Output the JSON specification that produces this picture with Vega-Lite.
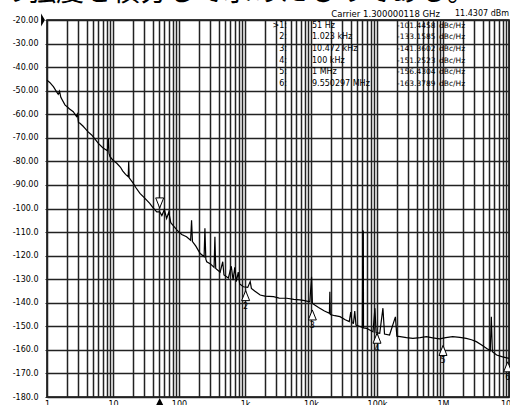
{
  "$schema": "https://vega.github.io/schema/vega-lite/v6.json",
  "width": 462,
  "height": 377,
  "autosize": {"type": "none"},
  "padding": {"left": 47, "top": 20, "right": 1, "bottom": 8},
  "background": "white",
  "title": {"text": "の強度を積分して求めたものである。", "anchor": "start", "frame": "group", "dx": -47, "dy": 19, "offset": 0, "baseline": "alphabetic", "font": "Noto Sans CJK JP", "fontSize": 28, "fontWeight": "normal", "color": "#000"},
  "datasets": {
    "curve": [
      {"f": 1, "db": -45.5}, {"f": 1.1, "db": -46.5}, {"f": 1.25, "db": -48.3}, {"f": 1.4, "db": -50.5}, {"f": 1.48, "db": -51.5},
      {"f": 1.55, "db": -50.2}, {"f": 1.62, "db": -52.8}, {"f": 1.87, "db": -56}, {"f": 2.2, "db": -57.8}, {"f": 2.5, "db": -58.9},
      {"f": 2.8, "db": -61}, {"f": 2.9, "db": -60}, {"f": 3.0, "db": -63.5}, {"f": 3.16, "db": -63.8}, {"f": 3.5, "db": -65},
      {"f": 3.77, "db": -66}, {"f": 4.2, "db": -67.5}, {"f": 4.75, "db": -68.8}, {"f": 5.3, "db": -70.5}, {"f": 6.0, "db": -72.4},
      {"f": 7.0, "db": -74.2}, {"f": 8.2, "db": -75.5}, {"f": 8.5, "db": -70.2}, {"f": 8.7, "db": -76.5}, {"f": 9.0, "db": -78},
      {"f": 10, "db": -79.5}, {"f": 11.4, "db": -80.8}, {"f": 13, "db": -82.5}, {"f": 14, "db": -84}, {"f": 15.5, "db": -85.5},
      {"f": 17, "db": -86.5}, {"f": 17.3, "db": -80}, {"f": 17.6, "db": -87}, {"f": 20.3, "db": -89.3}, {"f": 22, "db": -91},
      {"f": 25.6, "db": -93.6}, {"f": 30, "db": -95.5}, {"f": 36, "db": -97.8}, {"f": 40, "db": -99.5}, {"f": 46, "db": -101.4},
      {"f": 51, "db": -101.4}, {"f": 55, "db": -103}, {"f": 60, "db": -100.5}, {"f": 65, "db": -104.2}, {"f": 70, "db": -101.5},
      {"f": 75, "db": -106}, {"f": 80, "db": -107}, {"f": 92, "db": -109}, {"f": 100, "db": -110}, {"f": 110, "db": -111},
      {"f": 130, "db": -112}, {"f": 150, "db": -113.5}, {"f": 155, "db": -105}, {"f": 160, "db": -114}, {"f": 180, "db": -116},
      {"f": 208, "db": -119}, {"f": 240, "db": -120.5}, {"f": 247, "db": -108.4}, {"f": 255, "db": -121.5}, {"f": 263, "db": -122.6},
      {"f": 300, "db": -123.5}, {"f": 340, "db": -125}, {"f": 350, "db": -112}, {"f": 360, "db": -125.4}, {"f": 420, "db": -127},
      {"f": 460, "db": -122.6}, {"f": 480, "db": -128.2}, {"f": 560, "db": -129.5}, {"f": 620, "db": -124.5}, {"f": 660, "db": -130.4},
      {"f": 700, "db": -125}, {"f": 740, "db": -131}, {"f": 790, "db": -127}, {"f": 830, "db": -132}, {"f": 945, "db": -133.2},
      {"f": 1100, "db": -133.5}, {"f": 1200, "db": -131}, {"f": 1250, "db": -133.9}, {"f": 1400, "db": -135}, {"f": 1700, "db": -136.7},
      {"f": 2000, "db": -137.2}, {"f": 2700, "db": -137.4}, {"f": 3300, "db": -138}, {"f": 4300, "db": -138.1}, {"f": 5500, "db": -138.6},
      {"f": 6800, "db": -138.8}, {"f": 8000, "db": -139.1}, {"f": 9600, "db": -139.6}, {"f": 10200, "db": -129}, {"f": 10500, "db": -140.3},
      {"f": 11400, "db": -141}, {"f": 13000, "db": -142}, {"f": 16000, "db": -143.5}, {"f": 19000, "db": -144.5}, {"f": 19300, "db": -135.3},
      {"f": 19600, "db": -145}, {"f": 23000, "db": -145.5}, {"f": 27500, "db": -145.9}, {"f": 33000, "db": -147.2}, {"f": 38000, "db": -148},
      {"f": 40000, "db": -144}, {"f": 42000, "db": -148.5}, {"f": 44000, "db": -148.7}, {"f": 46000, "db": -143.5}, {"f": 48000, "db": -149.5},
      {"f": 55000, "db": -150.1}, {"f": 60000, "db": -150.5}, {"f": 61000, "db": -109.1}, {"f": 61500, "db": -150.7}, {"f": 62000, "db": -109.5},
      {"f": 62500, "db": -150.7}, {"f": 70000, "db": -150.9}, {"f": 80000, "db": -151.8}, {"f": 87000, "db": -152.3}, {"f": 93000, "db": -142.3},
      {"f": 97000, "db": -152.7}, {"f": 110000, "db": -153}, {"f": 123000, "db": -142.3}, {"f": 130000, "db": -153.3}, {"f": 155000, "db": -153.7},
      {"f": 190000, "db": -146}, {"f": 200000, "db": -154.2}, {"f": 225000, "db": -154.4}, {"f": 280000, "db": -154.8}, {"f": 350000, "db": -155.1},
      {"f": 450000, "db": -154.8}, {"f": 560000, "db": -154.4}, {"f": 700000, "db": -154.9}, {"f": 890000, "db": -155.3}, {"f": 1100000, "db": -154.8},
      {"f": 1400000, "db": -154.4}, {"f": 1800000, "db": -154.7}, {"f": 2250000, "db": -155.1}, {"f": 2700000, "db": -155.7}, {"f": 3200000, "db": -156.5},
      {"f": 3800000, "db": -157.8}, {"f": 4600000, "db": -159.4}, {"f": 5200000, "db": -160.3}, {"f": 5400000, "db": -145.9}, {"f": 5600000, "db": -160.8},
      {"f": 6500000, "db": -162.2}, {"f": 8000000, "db": -163}, {"f": 10000000, "db": -163.6}
    ],
    "markers": [
      {"marker": 1, "idx": ">1:", "f": 51, "freqLabel": "51 Hz", "db": -101.4458, "valueLabel": "-101.4458"},
      {"marker": 2, "idx": "2:", "f": 1023, "freqLabel": "1.023 kHz", "db": -133.1585, "valueLabel": "-133.1585"},
      {"marker": 3, "idx": "3:", "f": 10472, "freqLabel": "10.472 kHz", "db": -141.3602, "valueLabel": "-141.3602"},
      {"marker": 4, "idx": "4:", "f": 100000, "freqLabel": "100 kHz", "db": -151.2523, "valueLabel": "-151.2523"},
      {"marker": 5, "idx": "5:", "f": 1000000, "freqLabel": "1 MHz", "db": -156.4304, "valueLabel": "-156.4304"},
      {"marker": 6, "idx": "6:", "f": 9550297, "freqLabel": "9.550297 MHz", "db": -163.3789, "valueLabel": "-163.3789"}
    ],
    "carrier": [{"row": 0, "carrier": "Carrier 1.300000118 GHz", "power": "11.4307 dBm"}],
    "indicators": [
      {"kind": "reference level", "f": 1, "db": -20},
      {"kind": "active marker", "f": 51, "db": -180}
    ]
  },
  "layer": [
    {
      "encoding": {
        "x": {"field": "f", "type": "quantitative", "scale": {"type": "log", "domain": [1, 10000000], "nice": false},
          "axis": {"values": [1,2,3,4,5,6,7,8,9,10,20,30,40,50,60,70,80,90,100,200,300,400,500,600,700,800,900,1000,2000,3000,4000,5000,6000,7000,8000,9000,10000,20000,30000,40000,50000,60000,70000,80000,90000,100000,200000,300000,400000,500000,600000,700000,800000,900000,1000000,2000000,3000000,4000000,5000000,6000000,7000000,8000000,9000000,10000000],
            "grid": true, "gridColor": "#222", "gridWidth": 1.5, "domain": false, "ticks": false, "title": null,
            "labelExpr": "datum.value==1?'1':datum.value==10?'10':datum.value==100?'100':datum.value==1000?'1k':datum.value==10000?'10k':datum.value==100000?'100k':datum.value==1000000?'1M':datum.value==10000000?'10M':''",
            "labelFont": "DejaVu Sans", "labelFontSize": 8, "labelColor": "#000", "labelPadding": 3, "labelOverlap": false, "labelFlush": false, "labelBound": false}},
        "y": {"field": "db", "type": "quantitative", "scale": {"domain": [-180, -20], "nice": false, "zero": false},
          "axis": {"values": [-20,-30,-40,-50,-60,-70,-80,-90,-100,-110,-120,-130,-140,-150,-160,-170,-180],
            "grid": true, "gridColor": "#222", "gridWidth": 1.5, "domain": false, "ticks": true, "tickSize": 2, "tickColor": "#222", "title": null,
            "labelExpr": "datum.value > -100 ? '-' + format(-datum.value, '.2f') : '-' + format(-datum.value, '.1f')",
            "labelFont": "DejaVu Sans", "labelFontSize": 8, "labelColor": "#000", "labelPadding": 7, "labelOverlap": false, "labelBound": false, "labelFlush": false}}
      },
      "layer": [
        {
          "data": {"name": "curve"},
          "mark": {"type": "line", "color": "#000", "strokeWidth": 1.2}
        },
        {
          "data": {"name": "markers"},
          "transform": [{"filter": "datum.marker > 1"}],
          "mark": {"type": "point", "shape": "M0,-1L0.8,1L-0.8,1Z", "size": 100, "filled": true, "fill": "white", "stroke": "#000", "strokeWidth": 1, "opacity": 1, "yOffset": 9}
        },
        {
          "data": {"name": "markers"},
          "transform": [{"filter": "datum.marker > 1"}],
          "mark": {"type": "text", "font": "DejaVu Sans", "fontSize": 8, "color": "#000", "dy": 20, "baseline": "middle", "align": "center"},
          "encoding": {"text": {"field": "marker", "type": "nominal"}}
        },
        {
          "data": {"name": "markers"},
          "transform": [{"filter": "datum.marker == 1"}],
          "mark": {"type": "point", "shape": "M0,1L0.8,-1L-0.8,-1Z", "size": 100, "filled": true, "fill": "white", "stroke": "#000", "strokeWidth": 1, "opacity": 1, "yOffset": -9}
        },
        {
          "data": {"name": "indicators"},
          "transform": [{"filter": "datum.kind == 'active marker'"}],
          "mark": {"type": "point", "shape": "M0,-1L1,1L-1,1Z", "size": 100, "filled": true, "color": "#000", "opacity": 1, "yOffset": 6}
        },
        {
          "data": {"name": "indicators"},
          "transform": [{"filter": "datum.kind == 'reference level'"}],
          "mark": {"type": "point", "shape": "M-0.3,-1L0.3,0L-0.3,1Z", "size": 169, "filled": true, "color": "#000", "opacity": 1, "xOffset": -4}
        }
      ]
    },
    {
      "layer": [
        {
          "data": {"name": "carrier"},
          "mark": {"type": "text", "font": "DejaVu Sans", "fontSize": 8.5, "color": "#000", "align": "right", "baseline": "middle"},
          "encoding": {
            "x": {"datum": 900000, "type": "quantitative", "scale": {"type": "log", "domain": [1, 10000000], "nice": false}},
            "y": {"field": "row", "type": "quantitative", "scale": {"domain": [0.5, 33], "reverse": true, "nice": false, "zero": false}, "axis": null},
            "text": {"field": "carrier"}
          }
        },
        {
          "data": {"name": "carrier"},
          "mark": {"type": "text", "font": "DejaVu Sans", "fontSize": 8, "color": "#000", "align": "right", "baseline": "middle"},
          "encoding": {
            "x": {"datum": 10000000, "type": "quantitative", "scale": {"type": "log", "domain": [1, 10000000], "nice": false}},
            "y": {"field": "row", "type": "quantitative", "scale": {"domain": [0.5, 33], "reverse": true, "nice": false, "zero": false}, "axis": null},
            "text": {"field": "power"}
          }
        },
        {
          "data": {"name": "markers"},
          "mark": {"type": "text", "font": "DejaVu Sans", "fontSize": 8, "color": "#000", "align": "right", "baseline": "middle"},
          "encoding": {
            "x": {"datum": 4329, "type": "quantitative", "scale": {"type": "log", "domain": [1, 10000000], "nice": false}},
            "y": {"field": "marker", "type": "quantitative", "scale": {"domain": [0.5, 33], "reverse": true, "nice": false, "zero": false}, "axis": null},
            "text": {"field": "idx"}
          }
        },
        {
          "data": {"name": "markers"},
          "mark": {"type": "text", "font": "DejaVu Sans", "fontSize": 8, "color": "#000", "align": "left", "baseline": "middle"},
          "encoding": {
            "x": {"datum": 10355, "type": "quantitative", "scale": {"type": "log", "domain": [1, 10000000], "nice": false}},
            "y": {"field": "marker", "type": "quantitative", "scale": {"domain": [0.5, 33], "reverse": true, "nice": false, "zero": false}, "axis": null},
            "text": {"field": "freqLabel"}
          }
        },
        {
          "data": {"name": "markers"},
          "mark": {"type": "text", "font": "DejaVu Sans", "fontSize": 7.5, "color": "#000", "align": "left", "baseline": "middle"},
          "encoding": {
            "x": {"datum": 200900, "type": "quantitative", "scale": {"type": "log", "domain": [1, 10000000], "nice": false}},
            "y": {"field": "marker", "type": "quantitative", "scale": {"domain": [0.5, 33], "reverse": true, "nice": false, "zero": false}, "axis": null},
            "text": {"field": "valueLabel"}
          }
        },
        {
          "data": {"name": "markers"},
          "mark": {"type": "text", "font": "DejaVu Sans", "fontSize": 7.5, "color": "#000", "align": "left", "baseline": "middle"},
          "encoding": {
            "x": {"datum": 869000, "type": "quantitative", "scale": {"type": "log", "domain": [1, 10000000], "nice": false}},
            "y": {"field": "marker", "type": "quantitative", "scale": {"domain": [0.5, 33], "reverse": true, "nice": false, "zero": false}, "axis": null},
            "text": {"value": "dBc/Hz"}
          }
        }
      ]
    }
  ],
  "resolve": {"scale": {"y": "independent"}},
  "config": {
    "font": "DejaVu Sans",
    "view": {"stroke": "#000", "strokeWidth": 1.5},
    "axis": {"gridOpacity": 1}
  }
}
